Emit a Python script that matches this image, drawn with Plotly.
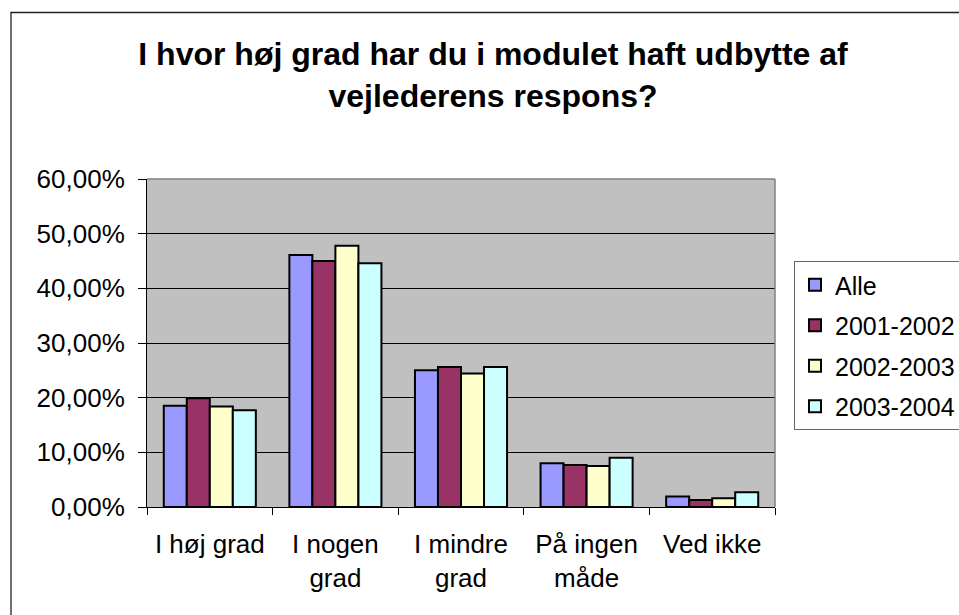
import plotly.graph_objects as go

categories = ["I høj grad", "I nogen<br>grad", "I mindre<br>grad", "På ingen<br>måde", "Ved ikke"]
series_names = ["Alle", "2001-2002", "2002-2003", "2003-2004"]
alle = [0.185, 0.461, 0.250, 0.080, 0.019]
y2001_2002 = [0.199, 0.450, 0.256, 0.077, 0.013]
y2002_2003 = [0.184, 0.478, 0.244, 0.075, 0.016]
y2003_2004 = [0.177, 0.446, 0.256, 0.090, 0.027]
colors = ["#9999FF", "#993366", "#FFFFCC", "#CCFFFF"]
y_ticks = [0, 0.1, 0.2, 0.3, 0.4, 0.5, 0.6]

W, H = 959, 615
L, R, T, B = 147, 775, 179, 507

def px(x):
    return (x - L) / (R - L)

def py(y):
    return (B - y) / (B - T)

fig = go.Figure()
for name, vals, col in zip(series_names, [alle, y2001_2002, y2002_2003, y2003_2004], colors):
    fig.add_trace(go.Bar(
        x=categories, y=vals, name=name, legendgroup=name,
        marker=dict(color=col, line=dict(color="#000000", width=2)),
    ))

font = "Arial, 'Liberation Sans', sans-serif"
fig.update_layout(
    width=W, height=H,
    margin=dict(l=L, r=W - R, t=T, b=H - B, autoexpand=False),
    paper_bgcolor="white",
    plot_bgcolor="#C0C0C0",
    separators=", ",
    barmode="group", bargap=0.267, bargroupgap=0,
    font=dict(family=font, size=26, color="#000000"),
    title=dict(
        text="I hvor høj grad har du i modulet haft udbytte af<br>vejlederens respons?",
        font=dict(family=font, size=32, color="#000000", weight="bold"),
        x=493 / W, xref="container", xanchor="center",
        y=1 - 65 / H, yref="container", yanchor="top",
    ),
    xaxis=dict(
        showline=True, linecolor="#000000", linewidth=1,
        ticks="outside", tickson="boundaries", ticklen=7, tickcolor="#000000",
        showgrid=False, automargin=False,
        ticklabelstandoff=14,
        tickfont=dict(size=26),
    ),
    yaxis=dict(
        range=[0, 0.6], tickvals=y_ticks, tickformat=".2%",
        showline=True, linecolor="#000000", linewidth=1,
        ticks="outside", ticklen=8, tickcolor="#000000",
        showgrid=True, gridcolor="#000000", gridwidth=1,
        zeroline=False, automargin=False,
        ticklabelstandoff=8,
        tickfont=dict(size=26),
    ),
    legend=dict(
        x=px(794), y=py(261), xanchor="left", yanchor="top",
        bgcolor="white", bordercolor="#666666", borderwidth=1,
        font=dict(size=25), tracegroupgap=5,
    ),
    showlegend=True,
    shapes=[
        dict(type="line", xref="paper", yref="paper", x0=0, x1=1, y0=1, y1=1,
             line=dict(color="#808080", width=1.5)),
        dict(type="line", xref="paper", yref="paper", x0=1, x1=1, y0=0, y1=1,
             line=dict(color="#808080", width=1.5)),
        dict(type="rect", xref="paper", yref="paper",
             x0=px(11), x1=px(1000), y0=py(640), y1=py(12.5),
             line=dict(color="#222222", width=1.3)),
    ],
)

fig.write_html("out.html", config={"displayModeBar": False},
               post_script="document.body.style.margin='0px';")
